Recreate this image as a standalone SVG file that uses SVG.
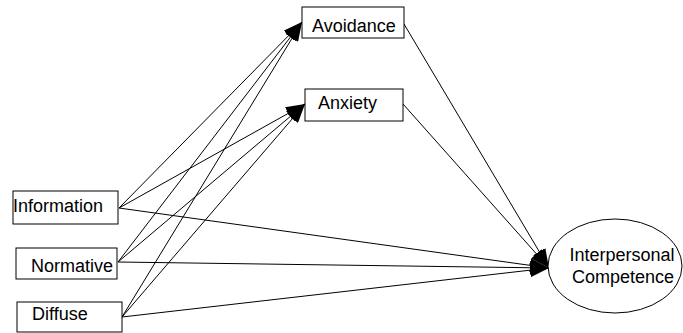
<svg xmlns="http://www.w3.org/2000/svg" width="683" height="333" viewBox="0 0 683 333">
  <style>
    .box { fill: #fff; stroke: #000; stroke-width: 1; }
    .lbl { font-family: "Liberation Sans", Arial, sans-serif; font-size: 18px; fill: #000; }
    .edge { stroke: #000; stroke-width: 1; fill: none; marker-end: url(#head); }
  </style>
  <defs>
    <marker id="head" markerUnits="userSpaceOnUse" markerWidth="20" markerHeight="14" refX="19" refY="7" orient="auto">
      <path d="M0,0 L19,7 L0,14 Z" fill="#000"/>
    </marker>
  </defs>

  <g id="connectors">
    <!-- exogenous variables to Avoidance -->
    <line class="edge" x1="119" y1="208" x2="302" y2="22"/>
    <line class="edge" x1="118" y1="262" x2="302" y2="22"/>
    <line class="edge" x1="122" y1="317" x2="302" y2="22"/>
    <!-- exogenous variables to Anxiety -->
    <line class="edge" x1="119" y1="208" x2="305" y2="104"/>
    <line class="edge" x1="118" y1="262" x2="305" y2="104"/>
    <line class="edge" x1="122" y1="317" x2="305" y2="104"/>
    <!-- direct paths to the outcome -->
    <line class="edge" x1="119" y1="208" x2="549" y2="268"/>
    <line class="edge" x1="118" y1="262" x2="549" y2="268"/>
    <line class="edge" x1="122" y1="317" x2="549" y2="268"/>
    <line class="edge" x1="404" y1="24" x2="549" y2="268"/>
    <line class="edge" x1="403" y1="104" x2="549" y2="268"/>
  </g>

  <g id="avoidance">
    <rect class="box" x="302" y="7" width="102" height="31"/>
    <text class="lbl" x="312" y="32">Avoidance</text>
  </g>
  <g id="anxiety">
    <rect class="box" x="305" y="89" width="98" height="32"/>
    <text class="lbl" x="318" y="109">Anxiety</text>
  </g>
  <g id="information">
    <rect class="box" x="13" y="191" width="105" height="33"/>
    <text class="lbl" x="13" y="212">Information</text>
  </g>
  <g id="normative">
    <rect class="box" x="16" y="248" width="101" height="31"/>
    <text class="lbl" x="31" y="272">Normative</text>
  </g>
  <g id="diffuse">
    <rect class="box" x="17" y="302" width="105" height="30"/>
    <text class="lbl" x="32" y="320">Diffuse</text>
  </g>
  <g id="interpersonal-competence">
    <ellipse class="box" cx="615" cy="266" rx="67" ry="47"/>
    <text class="lbl" x="622" y="261" text-anchor="middle">Interpersonal</text>
    <text class="lbl" x="623" y="283" text-anchor="middle">Competence</text>
  </g>
</svg>
